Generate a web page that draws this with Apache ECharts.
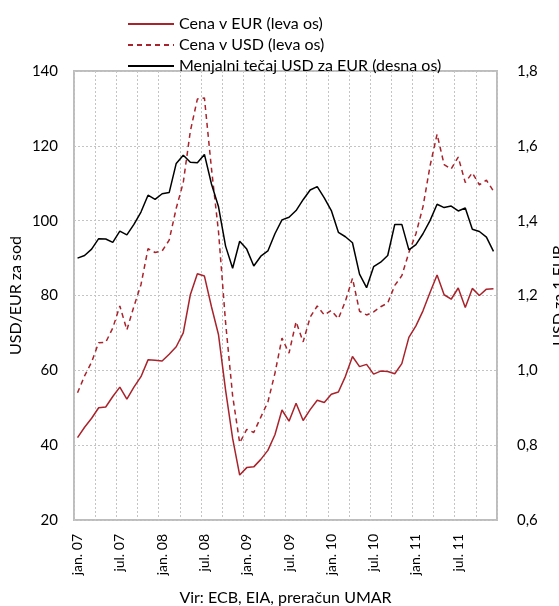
<!DOCTYPE html>
<html>
<head>
<meta charset="UTF-8">
<title></title>
<script src="https://cdn.jsdelivr.net/npm/echarts@6/dist/echarts.min.js"></script>
<style>
  html, body { margin: 0; padding: 0; background: #fff; }
</style>
</head>
<body>
<div id="main" style="width:559px;height:606px;"></div>
<script>
// months jan.07 .. dec.11
var monthNames = ['jan.', 'feb.', 'mar.', 'apr.', 'maj', 'jun.', 'jul.', 'avg.', 'sep.', 'okt.', 'nov.', 'dec.'];
var years = ['07', '08', '09', '10', '11'];
var categories = [];
years.forEach(function (y) {
  monthNames.forEach(function (m) { categories.push(m + ' ' + y); });
});

// Cena v EUR (leva os)
var priceEur = [
  42.0, 44.8, 47.2, 50.0, 50.2, 53.0, 55.5, 52.3, 55.5, 58.3, 62.8, 62.7,
  62.5, 64.3, 66.3, 70.0, 80.2, 85.8, 85.2, 77.0, 69.5, 54.7, 41.8, 32.0,
  34.0, 34.2, 36.2, 38.6, 42.8, 49.4, 46.4, 51.2, 46.6, 49.5, 52.0, 51.4,
  53.6, 54.2, 58.4, 63.7, 61.0, 61.6, 59.0, 59.8, 59.7, 59.1, 61.8, 68.8,
  71.9, 75.9, 80.8, 85.5, 80.2, 79.0, 82.0, 76.8, 81.9, 80.0, 81.7, 81.8
];
// Cena v USD (leva os)
var priceUsd = [
  54.0, 58.5, 62.2, 67.4, 67.5, 71.3, 77.2, 70.8, 77.1, 82.9, 92.5, 91.5,
  91.9, 94.8, 103.3, 110.2, 123.9, 132.5, 132.8, 113.9, 97.0, 72.8, 53.2, 40.6,
  44.2, 43.4, 47.5, 51.5, 59.2, 68.6, 64.6, 73.0, 67.6, 74.2, 77.2, 74.8,
  76.0, 73.8, 78.5, 84.6, 75.8, 74.8, 75.6, 77.0, 78.0, 82.7, 85.3, 91.5,
  96.5, 103.7, 114.6, 123.1, 115.0, 113.8, 117.0, 110.2, 112.8, 109.6, 110.8, 107.9
];
// Menjalni tečaj USD za EUR (desna os)
var rate = [
  1.300, 1.307, 1.324, 1.352, 1.351, 1.342, 1.372, 1.362, 1.390, 1.423, 1.468, 1.457,
  1.472, 1.475, 1.553, 1.575, 1.556, 1.555, 1.577, 1.498, 1.437, 1.332, 1.273, 1.345,
  1.324, 1.279, 1.305, 1.319, 1.365, 1.402, 1.409, 1.427, 1.456, 1.482, 1.491, 1.461,
  1.427, 1.369, 1.357, 1.341, 1.257, 1.221, 1.277, 1.289, 1.307, 1.390, 1.390, 1.322,
  1.336, 1.365, 1.400, 1.444, 1.435, 1.439, 1.426, 1.434, 1.377, 1.371, 1.356, 1.318
];

var red = '#a8232b';
var font = 'Lato';

var myChart = echarts.init(document.getElementById('main'));
myChart.setOption({
  animation: false,
  textStyle: { fontFamily: font, color: '#000' },
  legend: {
    orient: 'vertical',
    left: 122,
    top: 11,
    itemWidth: 46,
    itemHeight: 14,
    itemGap: 5,
    itemStyle: { opacity: 0 },
    textStyle: { fontFamily: font, fontSize: 16, color: '#000' },
    data: ['Cena v EUR (leva os)', 'Cena v USD (leva os)', 'Menjalni tečaj USD za EUR (desna os)']
  },
  grid: {
    left: 74, right: 62, top: 71, bottom: 86,
    outerBoundsMode: 'none',
    show: true, borderColor: '#bdbdbd', borderWidth: 2
  },
  xAxis: {
    type: 'category',
    data: categories,
    boundaryGap: true,
    name: 'Vir: ECB, EIA, preračun UMAR',
    nameLocation: 'middle',
    nameGap: 70,
    nameMoveOverlap: false,
    nameTextStyle: { fontFamily: font, fontSize: 16, color: '#000' },
    axisLine: { show: false },
    axisTick: { show: false },
    axisLabel: {
      interval: 5, rotate: 90, margin: 14,
      fontFamily: font, fontSize: 14, color: '#000',
      formatter: function (v) { return v.indexOf('jan') === 0 || v.indexOf('jul') === 0 ? v : ''; }
    },
    splitLine: {
      show: true, interval: 2,
      lineStyle: { color: '#c4c4c4', type: [2, 2], width: 1 }
    }
  },
  yAxis: [{
    type: 'value',
    min: 20, max: 140, interval: 20,
    name: 'USD/EUR za sod',
    nameLocation: 'middle',
    nameGap: 50,
    nameRotate: 90,
    nameMoveOverlap: false,
    nameTextStyle: { fontFamily: font, fontSize: 16, color: '#000' },
    axisLine: { show: false },
    axisTick: { show: false },
    axisLabel: { margin: 16, fontFamily: font, fontSize: 15, color: '#000' },
    splitLine: { lineStyle: { color: '#c4c4c4', type: [2, 2], width: 1 } }
  }, {
    type: 'value',
    position: 'right',
    min: 0.6, max: 1.8, interval: 0.2,
    name: 'USD za 1 EUR',
    nameLocation: 'middle',
    nameGap: 54,
    nameRotate: 90,
    nameMoveOverlap: false,
    nameTextStyle: { fontFamily: font, fontSize: 16, color: '#000' },
    axisLine: { show: false },
    axisTick: { show: false },
    axisLabel: {
      margin: 20, fontFamily: font, fontSize: 15, color: '#000',
      formatter: function (v) { return v.toFixed(1).replace('.', ','); }
    },
    splitLine: { show: false }
  }],
  series: [{
    name: 'Cena v EUR (leva os)',
    type: 'line',
    yAxisIndex: 0,
    data: priceEur,
    symbol: 'none',
    lineStyle: { color: red, width: 1.5 },
    itemStyle: { color: red }
  }, {
    name: 'Cena v USD (leva os)',
    type: 'line',
    yAxisIndex: 0,
    data: priceUsd,
    symbol: 'none',
    lineStyle: { color: red, width: 1.5, type: [5, 4] },
    itemStyle: { color: red }
  }, {
    name: 'Menjalni tečaj USD za EUR (desna os)',
    type: 'line',
    yAxisIndex: 1,
    data: rate,
    symbol: 'none',
    lineStyle: { color: '#000', width: 1.5 },
    itemStyle: { color: '#000' }
  }]
});
</script>
</body>
</html>
